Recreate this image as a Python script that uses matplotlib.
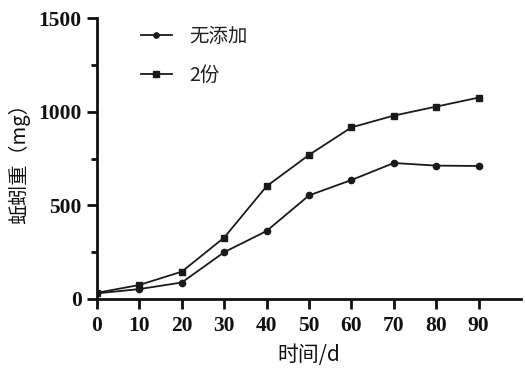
import matplotlib
matplotlib.use("Agg")
import matplotlib.pyplot as plt
from matplotlib.ticker import MultipleLocator

days = [0, 10, 20, 30, 40, 50, 60, 70, 80, 90]
no_add = [30, 53, 88, 250, 363, 553, 635, 726, 712, 710]
two_parts = [33, 75, 146, 328, 602, 769, 916, 979, 1027, 1075]
labels = ["无添加", "2份"]
x_ticks = [0, 10, 20, 30, 40, 50, 60, 70, 80, 90]
y_ticks = [0, 500, 1000, 1500]

cjk = ["Noto Sans CJK SC", "DejaVu Sans"]

fig = plt.figure(figsize=(5.25, 3.74), dpi=100)
ax = fig.add_axes([97/525, 1-299/374, (521-97)/525, (299-18)/374])

ax.plot(days, no_add, color="#1a1a1a", lw=1.3, marker="o", ms=4.5, label=labels[0])
ax.plot(days, two_parts, color="#1a1a1a", lw=1.3, marker="s", ms=5, label=labels[1])

ax.set_xlim(0, 100)
ax.set_ylim(0, 1500)
ax.set_xticks(x_ticks)
ax.set_yticks(y_ticks)
ax.yaxis.set_minor_locator(MultipleLocator(250))

for s in ["top", "right"]:
    ax.spines[s].set_visible(False)
for s in ["left", "bottom"]:
    ax.spines[s].set_linewidth(2)
    ax.spines[s].set_color("#111111")

ax.tick_params(axis="both", which="major", direction="out", length=7, width=2, color="#111111")
ax.tick_params(axis="x", which="major", pad=5)
ax.tick_params(axis="y", which="major", pad=4)
ax.tick_params(axis="y", which="minor", direction="out", length=4, width=2, color="#111111")
for lab in ax.get_xticklabels() + ax.get_yticklabels():
    lab.set_fontfamily("Liberation Serif")
    lab.set_fontweight("bold")
    lab.set_fontsize(15.5)
    lab.set_color("#111111")

ax.set_xlabel("时间/d", family=cjk, fontsize=15, color="#111111", labelpad=6)
ax.set_ylabel("蚯蚓重（mg）", family=cjk, fontsize=14.5, color="#111111", labelpad=6)

leg = ax.legend(loc="upper left", bbox_to_anchor=(123/525, 1-8/374), bbox_transform=fig.transFigure,
                frameon=False, prop={"family": cjk, "size": 14},
                handlelength=1.6, handletextpad=0.9, labelspacing=0.95, markerscale=0.85)
for t in leg.get_texts():
    t.set_color("#222222")

fig.savefig("out.png", dpi=100)
